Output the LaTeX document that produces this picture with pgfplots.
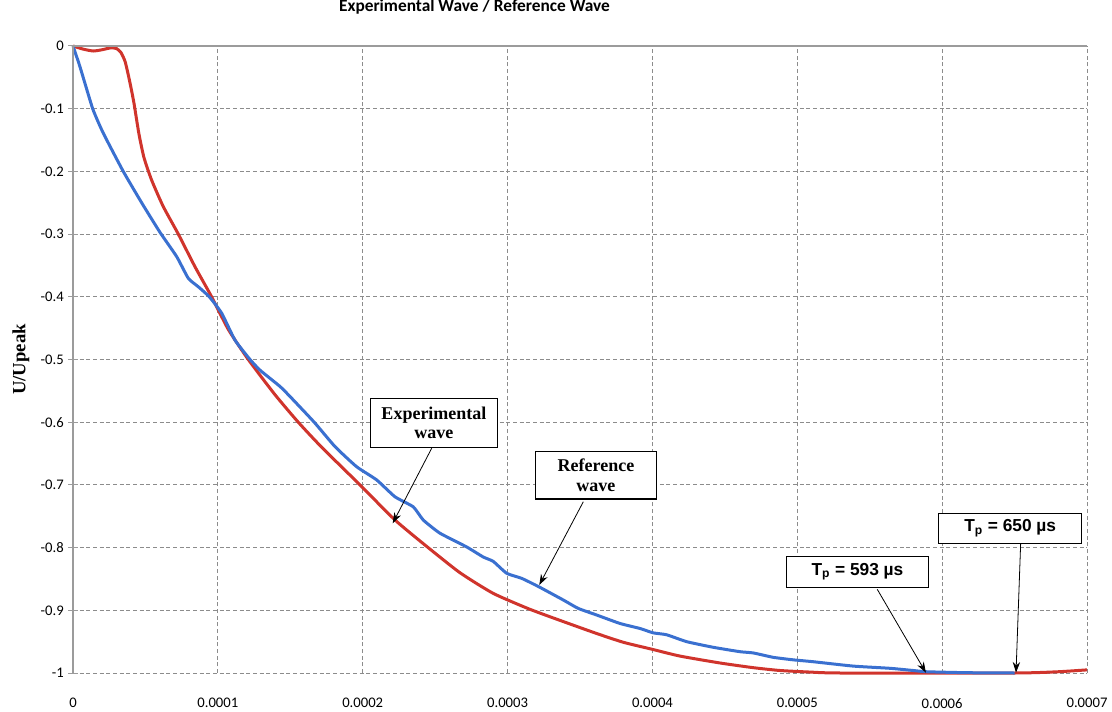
\documentclass[border=0pt]{standalone}
\usepackage{fontspec}
\setmainfont{Carlito}
\newfontfamily\timesf{Liberation Serif}
\newfontfamily\arialf{Liberation Sans}
\usepackage{pgfplots}
\pgfplotsset{compat=1.18}
\usetikzlibrary{arrows.meta}
\definecolor{blueline}{RGB}{58,112,208}
\definecolor{redline}{RGB}{208,52,44}
\definecolor{gridgray}{RGB}{140,140,140}
\definecolor{axisgray}{RGB}{155,155,155}
\begin{document}
\begin{tikzpicture}
\begin{axis}[
  scale only axis, width=760.5pt, height=470.25pt,
  xmin=0, xmax=7e-4, ymin=-1, ymax=0,
  xtick={0,1e-4,2e-4,3e-4,4e-4,5e-4,6e-4,7e-4},
  xticklabels={0,0.0001,0.0002,0.0003,0.0004,0.0005,0.0006,0.0007},
  scaled x ticks=false,
  ytick={-1,-0.9,-0.8,-0.7,-0.6,-0.5,-0.4,-0.3,-0.2,-0.1,0},
  yticklabel style={/pgf/number format/.cd, fixed, precision=1, assume math mode=true},
  ticklabel style={font=\fontsize{11}{13}\selectfont},
  xticklabel style={yshift=-12pt},
  grid=major,
  major grid style={gridgray, line width=0.75pt, dash pattern=on 3pt off 2pt},
  axis line style={draw=none},
  ytick pos=left, xtick style={draw=none},
  ytick style={axisgray, line width=0.75pt},
  tick align=center, major tick length=6.75pt,
  every axis y label/.style={at={(rel axis cs:0,0.5)}, xshift=-39pt, rotate=90, anchor=center},
  ylabel={U/Upeak},
  ylabel style={font=\timesf\bfseries\fontsize{14}{16}\selectfont},
  title={Experimental Wave / Reference Wave},
  title style={at={(rel axis cs:0.396,1)}, anchor=base, yshift=19.5pt, font=\bfseries\fontsize{13}{15}\selectfont},
  clip=false,
]
% Experimental wave (red)
\addplot[redline, line width=2.25pt, smooth, tension=0.35] coordinates {
(0,0) (0.07e-4,-0.005) (0.14e-4,-0.008) (0.20e-4,-0.006) (0.26e-4,-0.003)
(0.30e-4,-0.004) (0.33e-4,-0.010) (0.36e-4,-0.025) (0.39e-4,-0.055)
(0.42e-4,-0.090) (0.455e-4,-0.140) (0.49e-4,-0.178) (0.543e-4,-0.214)
(0.623e-4,-0.256) (0.727e-4,-0.300)
(0.842e-4,-0.352) (0.957e-4,-0.400) (1.072e-4,-0.452) (1.210e-4,-0.500)
(1.394e-4,-0.556) (1.555e-4,-0.600) (1.717e-4,-0.640) (1.981e-4,-0.700)
(2.223e-4,-0.756) (2.441e-4,-0.798) (2.671e-4,-0.840) (2.901e-4,-0.873)
(3.150e-4,-0.898) (3.385e-4,-0.918) (3.615e-4,-0.937) (3.799e-4,-0.951)
(3.995e-4,-0.962) (4.190e-4,-0.973) (4.466e-4,-0.984) (4.696e-4,-0.9915)
(4.880e-4,-0.996) (5.088e-4,-0.9985) (5.300e-4,-1.000) (6.500e-4,-1.000)
(6.800e-4,-0.998) (7.000e-4,-0.995)
};
% Reference wave (blue)
\addplot[blueline, line width=2.25pt, smooth, tension=0.3] coordinates {
(0,0) (0.048e-4,-0.033) (0.136e-4,-0.100) (0.209e-4,-0.139) (0.347e-4,-0.200)
(0.474e-4,-0.250) (0.600e-4,-0.297) (0.716e-4,-0.336) (0.796e-4,-0.3705)
(0.865e-4,-0.384) (0.941e-4,-0.400) (1.026e-4,-0.426) (1.118e-4,-0.469)
(1.222e-4,-0.500) (1.291e-4,-0.517) (1.429e-4,-0.543) (1.498e-4,-0.559)
(1.665e-4,-0.600) (1.809e-4,-0.639) (1.958e-4,-0.671) (2.096e-4,-0.692)
(2.223e-4,-0.719) (2.349e-4,-0.735) (2.418e-4,-0.756) (2.533e-4,-0.777)
(2.718e-4,-0.799) (2.832e-4,-0.815) (2.901e-4,-0.822) (2.994e-4,-0.841)
(3.097e-4,-0.849) (3.212e-4,-0.862) (3.385e-4,-0.8836) (3.488e-4,-0.897)
(3.615e-4,-0.9075) (3.776e-4,-0.921) (3.914e-4,-0.929) (4.006e-4,-0.936)
(4.098e-4,-0.939) (4.236e-4,-0.950) (4.420e-4,-0.959) (4.604e-4,-0.966)
(4.696e-4,-0.968) (4.834e-4,-0.975) (4.972e-4,-0.979) (5.110e-4,-0.982)
(5.387e-4,-0.989) (5.640e-4,-0.9925) (5.800e-4,-0.996) (5.893e-4,-0.998)
(6.170e-4,-0.9995) (6.500e-4,-1.000)
};
% axis lines (left and top, solid)
\draw[axisgray, line width=1pt] (rel axis cs:0,0) -- (rel axis cs:0,1) -- (rel axis cs:1,1);
% annotations
\tikzset{annbox/.style={draw=black, line width=0.8pt, fill=white, align=center, inner sep=1pt}}
\node[annbox, minimum width=95pt, minimum height=36.75pt, font=\timesf\bfseries\fontsize{13.5}{14.5}\selectfont]
  at (axis cs:2.492e-4,-0.601) {Experimental\\wave};
\node[annbox, minimum width=90.5pt, minimum height=35.5pt, font=\timesf\bfseries\fontsize{13.5}{14.5}\selectfont]
  at (axis cs:3.610e-4,-0.6847) {Reference\\wave};
\node[annbox, minimum width=106pt, minimum height=23pt, font=\arialf\bfseries\fontsize{13}{15}\selectfont]
  at (axis cs:5.4156e-4,-0.8389) {T\textsubscript{p} = 593 µs};
\node[annbox, minimum width=107pt, minimum height=22.5pt, font=\arialf\bfseries\fontsize{13}{15}\selectfont]
  at (axis cs:6.470e-4,-0.7692) {T\textsubscript{p} = 650 µs};
\draw[black, line width=0.6pt, -{Stealth[length=8pt,width=5.5pt]}] (axis cs:2.476e-4,-0.6416) -- (axis cs:2.207e-4,-0.7612);
\draw[black, line width=0.6pt, -{Stealth[length=8pt,width=5.5pt]}] (axis cs:3.523e-4,-0.7268) -- (axis cs:3.219e-4,-0.8596);
\draw[black, line width=0.6pt, -{Stealth[length=8pt,width=5.5pt]}] (axis cs:5.552e-4,-0.8665) -- (axis cs:5.888e-4,-0.9995);
\draw[black, line width=0.6pt, -{Stealth[length=8pt,width=5.5pt]}] (axis cs:6.542e-4,-0.7931) -- (axis cs:6.510e-4,-0.9995);
\end{axis}
\pgfresetboundingbox
\path ([shift={(-54.75pt,-28.5pt)}]current axis.south west) rectangle ([shift={(18.75pt,34.5pt)}]current axis.north east);
\end{tikzpicture}
\end{document}
